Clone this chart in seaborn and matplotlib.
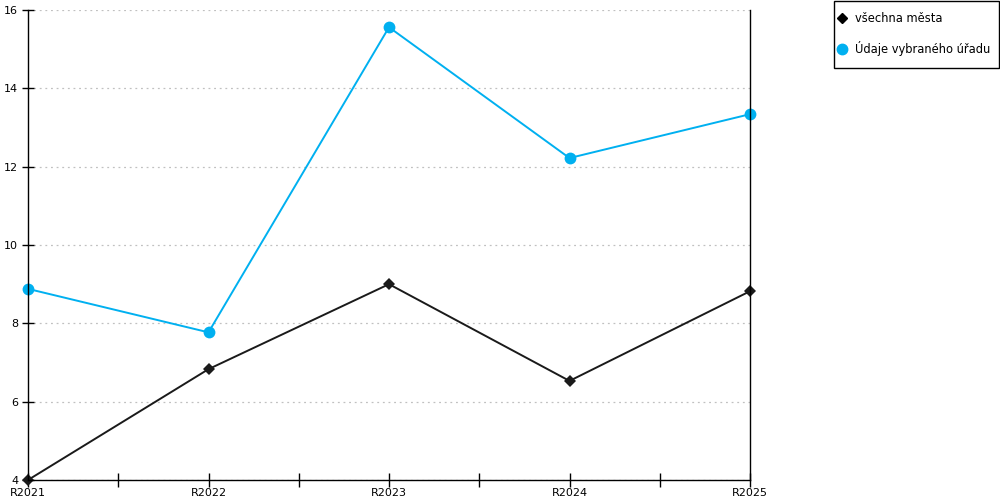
import pandas as pd
import matplotlib
matplotlib.use("Agg")
import matplotlib.pyplot as plt
import seaborn as sns
from matplotlib.patches import Rectangle
from matplotlib.ticker import MultipleLocator

# --------------------------------
# DATA
# --------------------------------
years = ["R2021", "R2022", "R2023", "R2024", "R2025"]

all_cities = [4.0, 6.83, 9.0, 6.53, 8.82]
selected_office = [8.88, 7.77, 15.56, 12.22, 13.34]

series_names = ["všechna města", "Údaje vybraného úřadu"]

df = pd.DataFrame({
    "year": years * 2,
    "value": all_cities + selected_office,
    "series": [series_names[0]] * len(years) + [series_names[1]] * len(years),
})

sns.set_theme(style="white")
plt.rcParams["font.family"] = ["DejaVu Sans"]

fig = plt.figure(figsize=(10, 5), dpi=100)
ax = fig.add_axes([0.028, 0.04, 0.722, 0.94])

palette = {series_names[0]: "#1a1a1a", series_names[1]: "#00b0f0"}
markers = {series_names[0]: "D", series_names[1]: "o"}

sns.lineplot(
    data=df,
    x="year",
    y="value",
    hue="series",
    style="series",
    markers=markers,
    dashes=False,
    palette=palette,
    markersize=7,
    markeredgewidth=0,
    linewidth=1.4,
    ax=ax,
    legend=False,
)

# bigger circles for the blue series
for line in ax.get_lines():
    if line.get_marker() == "o":
        line.set_markersize(8.5)
    else:
        line.set_markersize(6.5)
    line.set_clip_on(False)

ax.set_xlim(0, len(years) - 1)
ax.set_ylim(4, 16)
ax.yaxis.set_major_locator(MultipleLocator(2))
ax.xaxis.set_minor_locator(MultipleLocator(0.5))

ax.set_xlabel("")
ax.set_ylabel("")

ax.grid(axis="y", color="#c0c0c0", linestyle=(0, (1.5, 3)), linewidth=0.9)
ax.set_axisbelow(True)

ax.spines["top"].set_visible(False)
for side in ["left", "bottom", "right"]:
    ax.spines[side].set_color("black")
    ax.spines[side].set_linewidth(1)

ax.tick_params(axis="both", which="both", direction="inout",
               bottom=True, left=True, right=False, top=False,
               width=1, color="black", labelsize=8,
               labelcolor="black")
ax.tick_params(axis="x", which="both", length=10)
ax.tick_params(axis="x", which="major", pad=1)
ax.tick_params(axis="y", which="major", length=8, pad=3)

# --------------------------------
# LEGEND
# --------------------------------
fig.patches.append(Rectangle(
    (0.834, 0.864), 0.165, 0.134,
    transform=fig.transFigure,
    facecolor="white",
    edgecolor="black",
    linewidth=1,
))

handles = [
    plt.Line2D([], [], color="black", marker="D",
               linestyle="none", markersize=5.5),
    plt.Line2D([], [], color=palette[series_names[1]], marker="o",
               linestyle="none", markersize=7.5),
]
fig.legend(
    handles,
    series_names,
    loc="upper left",
    bbox_to_anchor=(0.8387, 0.976),
    frameon=False,
    fontsize=8.3,
    labelcolor="black",
    handlelength=0.6,
    handletextpad=0.8,
    labelspacing=1.4,
    borderpad=0,
    borderaxespad=0,
)

plt.savefig("out.png", dpi=100)
plt.close()
